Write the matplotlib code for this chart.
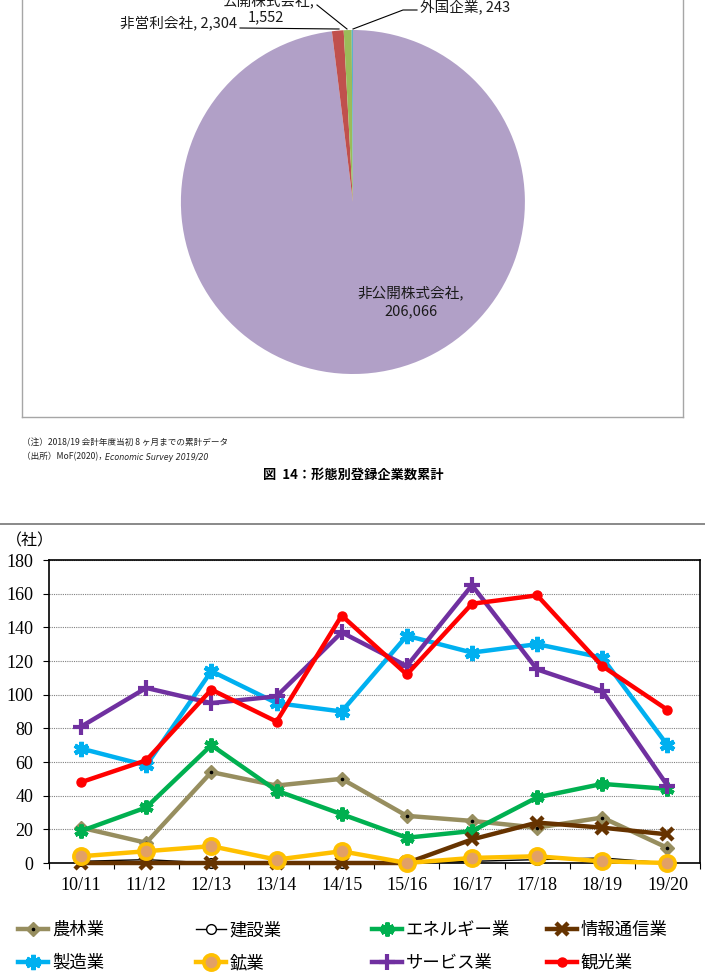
"""Registered companies by type (pie) and new registrations by industry (lines)."""

import matplotlib
matplotlib.use("Agg")
import matplotlib.pyplot as plt
from matplotlib.lines import Line2D
import numpy as np

JP_FONT = ["Noto Sans CJK JP", "DejaVu Sans"]
NUM_FONT = ["Liberation Serif", "DejaVu Serif"]

FIG_W, FIG_H = 705, 972

# pie: cumulative registered companies by type
COMPANY_TYPES = ["非公開株式会社", "非営利会社", "公開株式会社", "外国企業"]
COMPANY_COUNTS = [206066, 2304, 1552, 243]
COMPANY_COLORS = ["#B1A0C7", "#C0504D", "#9BBB59", "#4BACC6"]

# lines: registered companies by industry and fiscal year
YEARS = ["10/11", "11/12", "12/13", "13/14", "14/15", "15/16", "16/17", "17/18", "18/19", "19/20"]
AGRICULTURE = [21, 12, 54, 46, 50, 28, 25, 21, 27, 9]
CONSTRUCTION = [1, 2, 0, 0, 0, 0, 1, 2, 3, 0]
ENERGY = [19, 33, 70, 43, 29, 15, 19, 39, 47, 44]
ICT = [0, 0, 0, 0, 0, 0, 14, 24, 21, 17]
MANUFACTURING = [68, 58, 114, 95, 90, 135, 125, 130, 122, 70]
MINING = [4, 7, 10, 2, 7, 0, 3, 4, 1, 0]
SERVICES = [81, 104, 95, 99, 137, 117, 165, 115, 102, 46]
TOURISM = [48, 61, 103, 84, 147, 112, 154, 159, 117, 91]

SERIES = [
    ("農林業", AGRICULTURE, dict(color="#978E5F", lw=3.2, marker="D", ms=7, mfc="#978E5F", mec="#978E5F")),
    ("建設業", CONSTRUCTION, dict(color="black", lw=1.0, marker="o", ms=7, mfc="white", mec="black", mew=1.0)),
    ("エネルギー業", ENERGY, dict(color="#00B050", lw=3.2, marker=(6, 2, 0), ms=10, mec="#00B050", mew=3.0)),
    ("情報通信業", ICT, dict(color="#663300", lw=3.2, marker="x", ms=9, mec="#663300", mew=3.2)),
    ("製造業", MANUFACTURING, dict(color="#00B0F0", lw=3.2, marker=(6, 2, 0), ms=11, mec="#00B0F0", mew=3.2)),
    ("鉱業", MINING, dict(color="#FFC000", lw=3.2, marker="o", ms=11, mfc="#E2A066", mec="#FFC000", mew=2.6)),
    ("サービス業", SERVICES, dict(color="#7030A0", lw=3.2, marker="+", ms=11, mec="#7030A0", mew=3.0)),
    ("観光業", TOURISM, dict(color="#FF0000", lw=3.2, marker="o", ms=6.5, mfc="#FF0000", mec="#FF0000")),
]


def fx(px):
    return px / FIG_W


def fy(py):
    return 1 - py / FIG_H


def draw_pie(fig):
    # axes in pixel units so the circle stays round
    left, right, bottom, top = 22, 683, 417, -5
    ax = fig.add_axes([fx(left), fy(bottom), (right - left) / FIG_W, (bottom - top) / FIG_H])
    ax.pie(
        COMPANY_COUNTS,
        colors=COMPANY_COLORS,
        startangle=90,
        counterclock=False,
        center=(352.9, -202),
        radius=172,
        frame=True,
        wedgeprops=dict(linewidth=0),
    )
    ax.set_aspect("auto")
    ax.set_xlim(left, right)
    ax.set_ylim(-bottom, -top)
    ax.set_xticks([])
    ax.set_yticks([])
    for spine in ax.spines.values():
        spine.set_color("#A6A6A6")
        spine.set_linewidth(1.0)

    kw = dict(family=JP_FONT, fontsize=10.5, color="#1A1A1A", va="center")
    ax.text(411, -293, f"{COMPANY_TYPES[0]},", ha="center", **kw)
    ax.text(411, -311, f"{COMPANY_COUNTS[0]:,}", ha="center", **kw)
    ax.text(237, -24, f"{COMPANY_TYPES[1]}, {COMPANY_COUNTS[1]:,}", ha="right", **kw)
    # the source clips this label at the top edge of the page
    ax.text(268, -1, f"{COMPANY_TYPES[2]},", ha="center", **kw)
    ax.text(266, -17, f"{COMPANY_COUNTS[2]:,}", ha="center", **kw)
    ax.text(420, -7, f"{COMPANY_TYPES[3]}, {COMPANY_COUNTS[3]}", ha="left", **kw)

    leader = dict(color="black", lw=0.8)
    ax.plot([240, 339], [-28, -29], **leader)
    ax.plot([317, 347], [-5, -29], **leader)
    ax.plot([417, 403, 353], [-10, -10, -29], **leader)


def draw_notes(fig):
    kw = dict(family=JP_FONT, fontsize=6.2, va="center", color="#222222")
    fig.text(fx(22), fy(443), "（注）2018/19 会計年度当初 8 ヶ月までの累計データ", **kw)
    fig.text(fx(22), fy(457), "（出所）MoF(2020)，", **kw)
    fig.text(fx(105), fy(457), "Economic Survey 2019/20", family="DejaVu Sans",
             style="italic", fontsize=5.7, va="center", color="#222222")
    fig.text(fx(353), fy(475), "図  14：形態別登録企業数累計", family=JP_FONT,
             fontsize=9.5, fontweight="bold", ha="center", va="center")


def draw_lines(fig):
    fig.add_artist(Line2D([0, 1], [fy(524), fy(524)], color="#808080", lw=1.3,
                          transform=fig.transFigure))
    fig.text(fx(6), fy(541), "（社）", family=JP_FONT, fontsize=11.5, va="center")

    ax = fig.add_axes([fx(48.5), fy(863), (700 - 48.5) / FIG_W, (863 - 560) / FIG_H])
    x = np.arange(len(YEARS))
    handles = []
    for zorder, (label, values, style) in enumerate(SERIES, start=3):
        (line,) = ax.plot(x, values, clip_on=False, zorder=zorder, **style)
        if label == "農林業":
            (dot,) = ax.plot(x, values, ls="none", marker="o", ms=1.6, color="black",
                             clip_on=False, zorder=zorder)
            handles.append((line, dot))
        else:
            handles.append(line)

    ax.set_xlim(-0.5, len(YEARS) - 0.5)
    ax.set_ylim(0, 180)
    ax.set_yticks(range(0, 181, 20))
    ax.set_xticks(x, YEARS)
    ax.set_xticks(np.arange(-0.5, len(YEARS), 1), minor=True)
    ax.tick_params(axis="x", which="major", length=0, pad=10)
    ax.tick_params(axis="x", which="minor", length=4, width=0.8, direction="out")
    ax.tick_params(axis="y", length=4, width=0.8, direction="out", pad=7)
    for lbl in ax.get_xticklabels() + ax.get_yticklabels():
        lbl.set_family(NUM_FONT)
        lbl.set_fontsize(13)
    ax.yaxis.grid(True, color="#808080", linestyle=(0, (1, 1)), lw=0.8)
    ax.set_axisbelow(True)
    for spine in ax.spines.values():
        spine.set_linewidth(1.2)
        spine.set_color("black")

    # legend laid out as in the source: 4 columns, 2 rows, fixed column starts
    col_x = [18, 196, 372, 547]
    row_y = [930, 963]
    for i, ((label, _, _), handle) in enumerate(zip(SERIES, handles)):
        fig.legend(
            handles=[handle],
            labels=[label],
            loc="center left",
            bbox_to_anchor=(fx(col_x[i % 4]), fy(row_y[i // 4])),
            frameon=False,
            numpoints=1,
            handlelength=1.75,
            handletextpad=0.2,
            borderpad=0,
            borderaxespad=0,
            prop=dict(family=JP_FONT, size=12.5),
        )


def main():
    fig = plt.figure(figsize=(FIG_W / 100, FIG_H / 100), dpi=100)
    draw_pie(fig)
    draw_notes(fig)
    draw_lines(fig)
    fig.savefig("out.png", dpi=100)
    plt.close(fig)


if __name__ == "__main__":
    main()
